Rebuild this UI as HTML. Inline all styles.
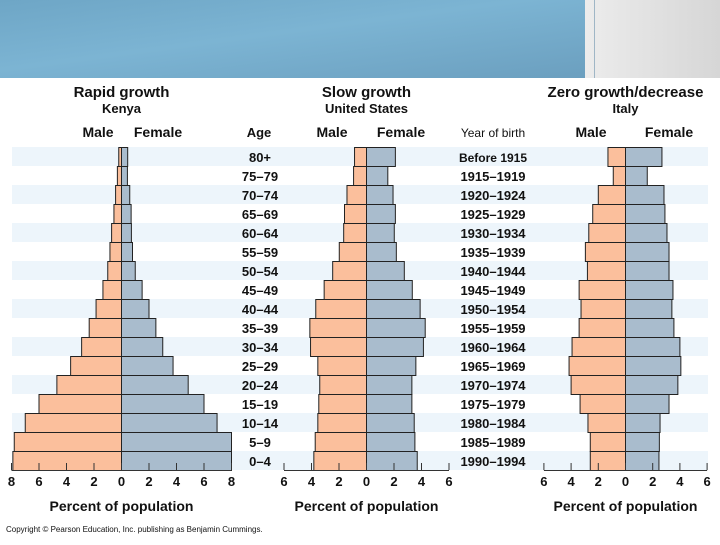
<!DOCTYPE html>
<html><head><meta charset="utf-8"><style>
body{margin:0;width:720px;height:540px;overflow:hidden;background:#fff;font-family:"Liberation Sans",Arial,sans-serif}
svg text{font-family:"Liberation Sans",Arial,sans-serif}
</style></head><body>
<svg id="chart" width="720" height="540" viewBox="0 0 720 540" xmlns="http://www.w3.org/2000/svg">
<defs>
<linearGradient id="hdr" x1="0" y1="0" x2="1" y2="1"><stop offset="0" stop-color="#6ea6c6"/><stop offset="0.45" stop-color="#7cb4d3"/><stop offset="1" stop-color="#6b9fbf"/></linearGradient>
<linearGradient id="gry" x1="0" y1="0" x2="1" y2="0"><stop offset="0" stop-color="#ececec"/><stop offset="1" stop-color="#d6d6d6"/></linearGradient>
</defs>
<rect x="0" y="0" width="585" height="78" fill="url(#hdr)"/>
<rect x="585" y="0" width="135" height="78" fill="url(#gry)"/>
<line x1="594.5" y1="0" x2="594.5" y2="78" stroke="#9fb6c6" stroke-width="1"/>
<g id="stripes"></g>
<g id="bars"></g>
<g id="axes"></g>
<g id="labels" font-weight="bold" fill="#111"></g>
<text x="6" y="532" font-size="8" fill="#111">Copyright © Pearson Education, Inc.  publishing as Benjamin Cummings.</text>
</svg>
<script>
const ages = ["80+","75–79","70–74","65–69","60–64","55–59","50–54","45–49","40–44","35–39","30–34","25–29","20–24","15–19","10–14","5–9","0–4"];
const years = ["Before 1915","1915–1919","1920–1924","1925–1929","1930–1934","1935–1939","1940–1944","1945–1949","1950–1954","1955–1959","1960–1964","1965–1969","1970–1974","1975–1979","1980–1984","1985–1989","1990–1994"];
const kenyaMale = [0.2,0.3,0.43,0.55,0.72,0.84,1.0,1.35,1.85,2.35,2.9,3.7,4.7,6.0,7.0,7.8,7.9];
const kenyaFemale = [0.45,0.43,0.6,0.7,0.72,0.8,1.0,1.5,2.0,2.5,3.0,3.75,4.85,6.0,6.95,8.0,8.0];
const usMale = [0.87,0.94,1.42,1.6,1.66,1.98,2.46,3.08,3.69,4.12,4.07,3.54,3.4,3.47,3.54,3.73,3.83];
const usFemale = [2.1,1.55,1.93,2.1,2.02,2.17,2.75,3.33,3.9,4.27,4.14,3.59,3.3,3.3,3.47,3.52,3.69];
const italyMale = [1.29,0.9,2.0,2.41,2.7,2.95,2.8,3.41,3.27,3.41,3.93,4.15,4.0,3.34,2.76,2.59,2.59];
const italyFemale = [2.68,1.6,2.83,2.9,3.05,3.2,3.2,3.49,3.41,3.56,4.0,4.07,3.85,3.2,2.54,2.49,2.46];
const kenyaTicks = [8,6,4,2,0,2,4,6,8];
const sixTicks = [6,4,2,0,2,4,6];

const NS="http://www.w3.org/2000/svg";
function mk(tag,attrs,parent){const e=document.createElementNS(NS,tag);for(const k in attrs)e.setAttribute(k,attrs[k]);parent.appendChild(e);return e;}
const TOP=147, ROW=19, BOTTOM=TOP+ROW*ages.length;
function yRow(i){return TOP+i*ROW;}
const stripes=document.getElementById('stripes'),bars=document.getElementById('bars'),axes=document.getElementById('axes'),labels=document.getElementById('labels');
ages.forEach((a,i)=>{ if(i%2===0){
  const r=mk('rect',{x:12,y:yRow(i),width:696,height:ROW,fill:'#edf5fb'},stripes);
  
  
}});
const panels=[
 {name:'kenya',zero:121.5,scale:13.75,male:kenyaMale,female:kenyaFemale,ticks:kenyaTicks,title:'Rapid growth',sub:'Kenya',mx:98,fx:158},
 {name:'us',zero:366.5,scale:13.75,male:usMale,female:usFemale,ticks:sixTicks,title:'Slow growth',sub:'United States',mx:332,fx:401},
 {name:'italy',zero:625.5,scale:13.6,male:italyMale,female:italyFemale,ticks:sixTicks,title:'Zero growth/decrease',sub:'Italy',mx:591,fx:669}
];
panels.forEach(p=>{
  const x=v=>p.zero+v*p.scale;
  p.male.forEach((v,i)=>{
    const r=mk('rect',{x:x(-v),y:yRow(i)+0.5,width:v*p.scale,height:ROW,fill:'#fbbf9c',stroke:'#222','stroke-width':1},bars);
    
    
  });
  p.female.forEach((v,i)=>{
    const r=mk('rect',{x:p.zero,y:yRow(i)+0.5,width:v*p.scale,height:ROW,fill:'#a9bccd',stroke:'#222','stroke-width':1},bars);
    
    
  });
  const n=p.ticks.length, half=(n-1)/2;
  const l=mk('line',{x1:x(-half*2),x2:x(half*2),y1:BOTTOM+0.5,y2:BOTTOM+0.5,stroke:'#333','stroke-width':1},axes);
  
  
  p.ticks.forEach((t,j)=>{
    const v=(j-half)*2, xx=x(v);
    mk('line',{x1:xx,x2:xx,y1:BOTTOM-7,y2:BOTTOM,stroke:'#333','stroke-width':1},axes);
    const tx=mk('text',{x:xx,y:BOTTOM+16,'font-size':13,'text-anchor':'middle'},labels);
    tx.textContent=t;
    
    
  });
  const xt=mk('text',{x:p.zero,y:511,'font-size':14,'text-anchor':'middle'},labels);
  xt.textContent='Percent of population';
  
  
  const tt=mk('text',{x:p.zero,y:97,'font-size':15,'text-anchor':'middle'},labels);
  tt.textContent=p.title;
  
  
  const st=mk('text',{x:p.zero,y:113,'font-size':13,'text-anchor':'middle'},labels);
  st.textContent=p.sub;
  
  
  const ml=mk('text',{x:p.mx,y:137,'font-size':14,'text-anchor':'middle'},labels);
  ml.textContent='Male';
  
  
  const fl=mk('text',{x:p.fx,y:137,'font-size':14,'text-anchor':'middle'},labels);
  fl.textContent='Female';
  
  
});
const ah=mk('text',{x:259,y:137,'font-size':13,'text-anchor':'middle'},labels);
ah.textContent='Age';


const yh=mk('text',{x:493,y:137,'font-size':12,'text-anchor':'middle','font-weight':'normal'},labels);
yh.textContent='Year of birth';


ages.forEach((a,i)=>{
  const t=mk('text',{x:260,y:yRow(i)+15,'font-size':13,'text-anchor':'middle'},labels);
  t.textContent=a;
  
  
});
years.forEach((a,i)=>{
  const t=mk('text',{x:493,y:yRow(i)+15,'font-size':i===0?12:13,'text-anchor':'middle'},labels);
  t.textContent=a;
  
  
});
</script>
</body></html>
